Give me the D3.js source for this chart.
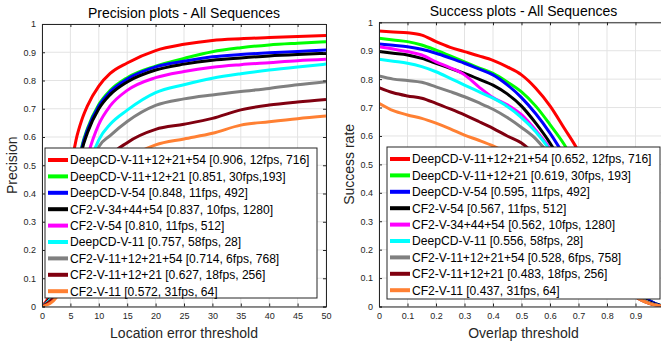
<!DOCTYPE html>
<html>
<head>
<meta charset="utf-8">
<script src="https://cdn.jsdelivr.net/npm/d3@7"></script>
<style>
  html, body { margin: 0; padding: 0; background: #fff; }
  svg { display: block; font-family: "Liberation Sans", Arial, sans-serif; }
</style>
</head>
<body>
<svg id="chart" width="661" height="345"></svg>
<script>
// colours by rank (same in both panels)
var colors = ["#ff0000", "#00ff00", "#0000ff", "#000000", "#ff00ff", "#00ffff", "#808080", "#800010", "#ff8033"];

// precision plot
var precThresholds = [0, 2, 4, 5, 6, 7, 8, 10, 12, 15, 20, 25, 30, 35, 40, 45, 50];
var precSeries = [
  [0, 0.08, 0.30, 0.48, 0.59, 0.66, 0.71, 0.78, 0.825, 0.862, 0.906, 0.928, 0.942, 0.948, 0.952, 0.956, 0.959],
  [0, 0.05, 0.20, 0.32, 0.45, 0.565, 0.63, 0.715, 0.765, 0.81, 0.851, 0.878, 0.902, 0.916, 0.926, 0.932, 0.937],
  [0, 0.05, 0.19, 0.31, 0.44, 0.56, 0.625, 0.71, 0.76, 0.805, 0.848, 0.868, 0.884, 0.892, 0.898, 0.903, 0.908],
  [0, 0.05, 0.18, 0.30, 0.43, 0.55, 0.615, 0.70, 0.75, 0.795, 0.837, 0.858, 0.872, 0.88, 0.887, 0.892, 0.896],
  [0, 0.04, 0.15, 0.25, 0.35, 0.45, 0.53, 0.645, 0.71, 0.765, 0.81, 0.832, 0.847, 0.856, 0.863, 0.87, 0.875],
  [0, 0.04, 0.13, 0.21, 0.30, 0.40, 0.48, 0.59, 0.645, 0.695, 0.757, 0.785, 0.808, 0.824, 0.837, 0.848, 0.858],
  [0, 0.03, 0.11, 0.18, 0.26, 0.35, 0.44, 0.565, 0.605, 0.655, 0.712, 0.735, 0.749, 0.761, 0.772, 0.785, 0.796],
  [0, 0.03, 0.09, 0.15, 0.22, 0.29, 0.36, 0.46, 0.53, 0.58, 0.627, 0.645, 0.666, 0.696, 0.713, 0.724, 0.733],
  [0, 0.02, 0.08, 0.13, 0.19, 0.25, 0.31, 0.40, 0.46, 0.52, 0.572, 0.593, 0.613, 0.642, 0.654, 0.665, 0.674]
];
var precLabels = [
  "DeepCD-V-11+12+21+54 [0.906, 12fps, 716]",
  "DeepCD-V-11+12+21 [0.851, 30fps,193]",
  "DeepCD-V-54 [0.848, 11fps, 492]",
  "CF2-V-34+44+54 [0.837, 10fps, 1280]",
  "CF2-V-54 [0.810, 11fps, 512]",
  "DeepCD-V-11 [0.757, 58fps, 28]",
  "CF2-V-11+12+21+54 [0.714, 6fps, 768]",
  "CF2-V-11+12+21 [0.627, 18fps, 256]",
  "CF2-V-11 [0.572, 31fps, 64]"
];
var precXTicks = [0, 5, 10, 15, 20, 25, 30, 35, 40, 45, 50];

// success plot
var succThresholds = [0, 0.05, 0.1, 0.15, 0.2, 0.25, 0.3, 0.35, 0.4, 0.45, 0.5, 0.55, 0.6, 0.65, 0.7, 0.75, 0.8, 0.85, 0.9, 0.95, 1];
var succSeries = [
  [0.969, 0.966, 0.963, 0.955, 0.932, 0.912, 0.897, 0.882, 0.866, 0.843, 0.815, 0.768, 0.706, 0.627, 0.545, 0.43, 0.30, 0.18, 0.075, 0.02, 0],
  [0.944, 0.938, 0.932, 0.92, 0.902, 0.882, 0.861, 0.84, 0.82, 0.79, 0.755, 0.705, 0.64, 0.57, 0.48, 0.37, 0.26, 0.15, 0.065, 0.02, 0],
  [0.924, 0.919, 0.914, 0.905, 0.891, 0.874, 0.856, 0.836, 0.815, 0.78, 0.735, 0.678, 0.61, 0.53, 0.44, 0.34, 0.24, 0.14, 0.06, 0.02, 0],
  [0.897, 0.891, 0.885, 0.873, 0.856, 0.838, 0.82, 0.80, 0.779, 0.748, 0.705, 0.645, 0.575, 0.49, 0.40, 0.30, 0.20, 0.11, 0.045, 0.015, 0],
  [0.914, 0.906, 0.897, 0.885, 0.861, 0.84, 0.815, 0.773, 0.735, 0.71, 0.675, 0.62, 0.555, 0.47, 0.38, 0.28, 0.19, 0.10, 0.04, 0.012, 0],
  [0.87, 0.863, 0.856, 0.844, 0.826, 0.803, 0.779, 0.756, 0.733, 0.704, 0.665, 0.615, 0.55, 0.47, 0.38, 0.28, 0.19, 0.10, 0.04, 0.012, 0],
  [0.811, 0.80, 0.795, 0.789, 0.773, 0.756, 0.738, 0.717, 0.694, 0.665, 0.63, 0.59, 0.53, 0.45, 0.36, 0.27, 0.18, 0.10, 0.04, 0.012, 0],
  [0.77, 0.752, 0.741, 0.733, 0.715, 0.695, 0.674, 0.651, 0.627, 0.60, 0.575, 0.53, 0.47, 0.40, 0.32, 0.24, 0.16, 0.09, 0.035, 0.01, 0],
  [0.715, 0.689, 0.674, 0.662, 0.645, 0.625, 0.603, 0.585, 0.565, 0.54, 0.51, 0.47, 0.42, 0.36, 0.29, 0.22, 0.15, 0.085, 0.035, 0.01, 0]
];
var succLabels = [
  "DeepCD-V-11+12+21+54 [0.652, 12fps, 716]",
  "DeepCD-V-11+12+21 [0.619, 30fps, 193]",
  "DeepCD-V-54 [0.595, 11fps, 492]",
  "CF2-V-54 [0.567, 11fps, 512]",
  "CF2-V-34+44+54 [0.562, 10fps, 1280]",
  "DeepCD-V-11 [0.556, 58fps, 28]",
  "CF2-V-11+12+21+54 [0.528, 6fps, 758]",
  "CF2-V-11+12+21 [0.483, 18fps, 256]",
  "CF2-V-11 [0.437, 31fps, 64]"
];
var succXTicks = [0, 0.1, 0.2, 0.3, 0.4, 0.5, 0.6, 0.7, 0.8, 0.9, 1];

var yTicks = [0, 0.1, 0.2, 0.3, 0.4, 0.5, 0.6, 0.7, 0.8, 0.9, 1];

var svg = d3.select("#chart");

function drawPanel(p) {
  var x = d3.scaleLinear().domain(p.xDomain).range([p.left, p.right]);
  var y = d3.scaleLinear().domain([0, 1]).range([p.bottom, p.top]);
  var g = svg.append("g");

  // clip so the curves stay inside the axes box
  var clipId = "clip-" + p.name;
  g.append("clipPath").attr("id", clipId)
    .append("rect")
      .attr("x", p.left).attr("y", p.top)
      .attr("width", p.right - p.left).attr("height", p.bottom - p.top);

  // grid
  g.append("g").selectAll("line").data(p.xTicks).enter().append("line")
    .attr("x1", d => x(d)).attr("x2", d => x(d))
    .attr("y1", p.top).attr("y2", p.bottom)
    .attr("stroke", "#e3e3e3").attr("stroke-width", 1);
  g.append("g").selectAll("line").data(yTicks).enter().append("line")
    .attr("x1", p.left).attr("x2", p.right)
    .attr("y1", d => y(d)).attr("y2", d => y(d))
    .attr("stroke", "#e3e3e3").attr("stroke-width", 1);

  // curves
  var line = d3.line()
    .x((d, i) => x(p.thresholds[i]))
    .y(d => y(d))
    .curve(d3.curveMonotoneX);
  g.append("g").attr("clip-path", "url(#" + clipId + ")")
    .selectAll("path").data(p.series).enter().append("path")
      .attr("d", d => line(d))
      .attr("fill", "none")
      .attr("stroke", (d, i) => colors[i])
      .attr("stroke-width", 3)
      .attr("stroke-linejoin", "round");

  // axes box + ticks (matlab style, ticks pointing inward on all sides)
  var axisColor = "#262626";
  var xb = d3.axisBottom(x).tickValues(p.xTicks).tickSize(-3).tickPadding(6)
    .tickFormat(d => d > p.xLabelMax ? "" : d3.format("")(d));
  var xa = g.append("g").attr("transform", "translate(0," + p.bottom + ")").call(xb);
  var xt = g.append("g").attr("transform", "translate(0," + p.top + ")")
    .call(d3.axisTop(x).tickValues(p.xTicks).tickSize(-3).tickFormat(""));
  var yl = g.append("g").attr("transform", "translate(" + p.left + ",0)")
    .call(d3.axisLeft(y).tickValues(yTicks).tickSize(-3).tickPadding(6).tickFormat(d3.format("")));
  var yr = g.append("g").attr("transform", "translate(" + p.right + ",0)")
    .call(d3.axisRight(y).tickValues(yTicks).tickSize(-3).tickFormat(""));
  [xa, xt, yl, yr].forEach(function(a) {
    a.select(".domain").attr("stroke", axisColor);
    a.selectAll(".tick line").attr("stroke", axisColor);
    a.selectAll(".tick text").attr("fill", axisColor)
      .style("font-family", "'Liberation Sans', Arial, sans-serif").style("font-size", "9px");
  });

  // titles
  g.append("text").attr("x", (p.left + p.titleRight) / 2).attr("y", p.top - 6)
    .attr("text-anchor", "middle").attr("fill", "#000")
    .style("font-size", "14px").text(p.title);
  g.append("text").attr("x", (p.left + p.titleRight) / 2).attr("y", 338)
    .attr("text-anchor", "middle").attr("fill", "#262626")
    .style("font-size", "14px").text(p.xLabel);
  g.append("text")
    .attr("transform", "translate(" + p.yLabelX + "," + ((p.top + p.bottom) / 2) + ") rotate(-90)")
    .attr("text-anchor", "middle").attr("fill", "#262626")
    .style("font-size", "14px").text(p.yLabel);

  // legend
  var lg = g.append("g");
  lg.append("rect")
    .attr("x", p.legend.x).attr("y", p.legend.y)
    .attr("width", p.legend.w).attr("height", p.legend.h)
    .attr("fill", "#fff").attr("stroke", "#262626").attr("stroke-width", 1);
  var row = lg.selectAll("g.row").data(p.labels).enter().append("g")
    .attr("transform", (d, i) => "translate(" + p.legend.x + "," + (p.legend.y + 12 + i * 16.4) + ")");
  row.append("line")
    .attr("x1", 3).attr("x2", 23).attr("y1", 0).attr("y2", 0)
    .attr("stroke", (d, i) => colors[i]).attr("stroke-width", 4);
  row.append("text")
    .attr("x", 25).attr("y", 0).attr("dy", "0.36em")
    .attr("fill", "#000").style("font-size", "12.1px")
    .text(d => d);
}

drawPanel({
  name: "prec",
  left: 42, right: 326, top: 24, bottom: 306.5, titleRight: 326,
  xDomain: [0, 50], xTicks: precXTicks, xLabelMax: 50,
  thresholds: precThresholds, series: precSeries, labels: precLabels,
  title: "Precision plots - All Sequences",
  xLabel: "Location error threshold", yLabel: "Precision", yLabelX: 17,
  legend: { x: 45, y: 148, w: 272, h: 150 }
});

drawPanel({
  name: "succ",
  left: 379, right: 664, top: 22.3, bottom: 306.5, titleRight: 668,
  xDomain: [0, 1], xTicks: succXTicks, xLabelMax: 0.95,
  thresholds: succThresholds, series: succSeries, labels: succLabels,
  title: "Success plots - All Sequences",
  xLabel: "Overlap threshold", yLabel: "Success rate", yLabelX: 354,
  legend: { x: 387, y: 147, w: 273, h: 152 }
});
</script>
</body>
</html>
